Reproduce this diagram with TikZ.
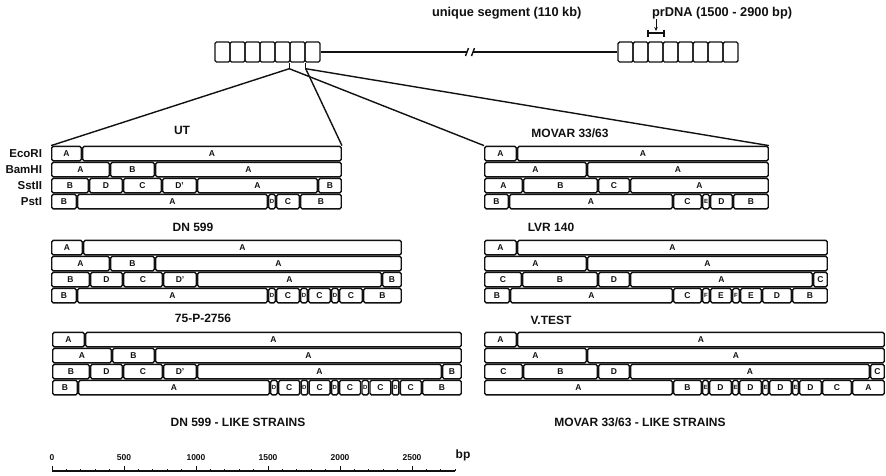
\documentclass[tikz,border=0pt]{standalone}
\usepackage{fontspec}
\setmainfont{Liberation Sans}
\usepackage{tikz}
\usetikzlibrary{arrows.meta,positioning,calc}
\definecolor{inkblack}{HTML}{111111}

\newcommand{\tinyfrag}[1]{{\fontsize{6}{6}\selectfont #1}}
\newcommand{\maprow}[3]{%
  \foreach \fs/\fe/\fl [count=\k] in {#3}{%
    \pgfmathsetmacro{\fw}{\fe-\fs-1.5}%
    \pgfmathsetmacro{\fx}{(\fs+\fe)/2}%
    \node[frag,minimum width=\fw pt] (#1-\k) at (\fx,#2+7.6) {\fl};
  }%
}
\newcommand{\strainmap}[6]{%
  \maprow{#1e}{#2}{#3}
  \maprow{#1b}{#2+16}{#4}
  \maprow{#1s}{#2+32}{#5}
  \maprow{#1p}{#2+48}{#6}
}

\begin{document}
\begin{tikzpicture}[
  x=1pt,y=-1pt,
  line width=1.4pt,
  draw=inkblack,
  cell/.style={draw=inkblack,rounded corners=1.5pt,minimum width=15pt,minimum height=20pt,inner sep=0pt},
  frag/.style={draw=inkblack,rounded corners=1.5pt,minimum height=14.6pt,inner sep=0pt,text=inkblack,
    font=\fontsize{8.5}{9}\selectfont\bfseries},
  strain/.style={text=inkblack,font=\fontsize{12}{14}\selectfont\bfseries},
  enzyme/.style={anchor=east,text=inkblack,font=\fontsize{11.5}{13}\selectfont\bfseries},
  toplabel/.style={anchor=west,text=inkblack,font=\fontsize{12.8}{14}\selectfont\bfseries},
  scalelabel/.style={text=inkblack,font=\fontsize{8.5}{9}\selectfont\bfseries},
  link/.style={draw=inkblack,line width=1.4pt}
]
  \path[fill=white] (0,0) rectangle (886,475);
  \useasboundingbox (0,0) rectangle (886,475);

  \node[toplabel] (uniq) at (428,13) {unique segment (110 kb)};
  \node[toplabel] (prdna) at (648,13) {prDNA (1500 - 2900 bp)};

  \foreach \i in {0,...,6} \node[cell] (rl\i) at (222.5+15*\i,52) {};
  \foreach \i in {0,...,7} \node[cell] (rr\i) at (625.5+15*\i,52) {};

  \coordinate (brkl) at (467,52);
  \coordinate (brkr) at (473,52);
  \draw[link] (rl6.east) -- (brkl);
  \draw[link] (brkr) -- (rr0.west);
  \draw[link] (465.5,56) -- (468.5,48);
  \draw[link] (471.5,56) -- (474.5,48);

  \coordinate (bra) at (648,33);
  \coordinate (brb) at (664,33);
  \coordinate (arrtop) at (656,19);
  \draw[link,line width=1.2pt] (648,29.5) -- (648,36.5) (bra) -- (brb) (664,29.5) -- (664,36.5);
  \draw[link,line width=1pt,-{Stealth[length=4pt,width=3.5pt]}] (arrtop) -- (656,31);

  \node[strain] (ut) at (182,130) {UT};
  \node[strain] (movar) at (570,133) {MOVAR 33/63};
  \node[strain] (dn) at (193,227) {DN 599};
  \node[strain] (lvr) at (551,227) {LVR 140};
  \node[strain] (tsp) at (203,318) {75-P-2756};
  \node[strain] (vt) at (551,320) {V.TEST};
  \node[strain] (dnlike) at (238,422) {DN 599 - LIKE STRAINS};
  \node[strain] (mvlike) at (640,422) {MOVAR 33/63 - LIKE STRAINS};

  \node[enzyme] (ecori) at (46,153.5) {EcoRI};
  \node[enzyme] (bamhi) at (46,169.5) {BamHI};
  \node[enzyme] (sstii) at (46,185.5) {SstII};
  \node[enzyme] (psti) at (46,201.5) {PstI};

  \strainmap{ut}{146}
    {51/82/A, 82/342/A}
    {51/110/A, 110/155/B, 155/342/A}
    {51/89/B, 89/123/D, 123/162/C, 162/197/D', 197/318/A, 318/342/B}
    {51/77/B, 77/268/A, 268/276/\tinyfrag{D}, 276/300/C, 300/342/B}

  \strainmap{mv}{146}
    {484/517/A, 517/769/A}
    {484/587/A, 587/769/A}
    {484/523/A, 523/598/B, 598/630/C, 630/769/A}
    {484/509/B, 509/673/A, 673/702/C, 702/710/\tinyfrag{E}, 710/733/D, 733/769/B}

  \strainmap{dn}{240}
    {51/83/A, 83/402/A}
    {51/110/A, 110/155/B, 155/402/A}
    {51/90/B, 90/123/D, 123/163/C, 163/197/D', 197/382/A, 382/402/B}
    {51/77/B, 77/268/A, 268/276/\tinyfrag{D}, 276/300/C, 300/308/\tinyfrag{D}, 308/331/C,
     331/339/\tinyfrag{D}, 339/363/C, 363/402/B}

  \strainmap{lv}{240}
    {484/517/A, 517/828/A}
    {484/587/A, 587/828/A}
    {484/522/C, 522/598/B, 598/630/D, 630/813/A, 813/828/C}
    {484/510/B, 510/673/A, 673/702/C, 702/710/\tinyfrag{F}, 710/732/E, 732/740/\tinyfrag{F},
     740/762/E, 762/792/D, 792/828/B}

  \strainmap{tp}{332}
    {52/85/A, 85/462/A}
    {52/112/A, 112/155/B, 155/462/A}
    {52/90/B, 90/123/D, 123/163/C, 163/197/D', 197/442/A, 442/462/B}
    {52/78/B, 78/270/A, 270/278/\tinyfrag{D}, 278/300.4/C, 300.4/308.4/\tinyfrag{D}, 308.4/330.8/C,
     330.8/338.8/\tinyfrag{D}, 338.8/361.2/C, 361.2/369.2/\tinyfrag{D}, 369.2/391.6/C,
     391.6/399.6/\tinyfrag{D}, 399.6/422/C, 422/462/B}

  \strainmap{vt}{332}
    {484/517/A, 517/885/A}
    {484/587/A, 587/885/A}
    {484/523/C, 523/598/B, 598/630/D, 630/870/A, 870/885/C}
    {484/673/A, 673/702/B, 702/709/\tinyfrag{E}, 709/732/D, 732/739/\tinyfrag{E}, 739/762/D,
     762/769/\tinyfrag{E}, 769/792/D, 792/799/\tinyfrag{E}, 799/822/D, 822/852/C, 852/885/A}

  \coordinate (jl) at ($(rl5.south west)+(0,6)$);
  \coordinate (jr) at ($(rl5.south east)+(0,6)$);
  \draw[link] (rl5.south west) -- (jl);
  \draw[link] (rl5.south east) -- (jr);
  \draw[link] (jl) -- (ute-1.north west);
  \draw[link] (jl) -- (mve-1.north west);
  \draw[link] (jr) -- (ute-2.north east);
  \draw[link] (jr) -- (mve-2.north east);

  \coordinate (sc0) at (52,471);
  \coordinate (sc1) at (455,471);
  \draw[link,line width=1.1pt] (sc0) -- (sc1);
  \foreach \t in {0,...,28}{
    \pgfmathsetmacro{\tx}{52+14.4*\t}
    \pgfmathsetmacro{\th}{mod(\t,5)==0 ? 5 : 2.5}
    \draw[link,line width=1pt] (\tx,471) -- (\tx,471-\th);
  }
  \foreach \v [count=\k from 0] in {0,500,...,2500}
    \node[scalelabel] (tick\k) at (52+72*\k,458) {\v};
  \node[strain] (bp) at (463,455) {bp};
\end{tikzpicture}
\end{document}
